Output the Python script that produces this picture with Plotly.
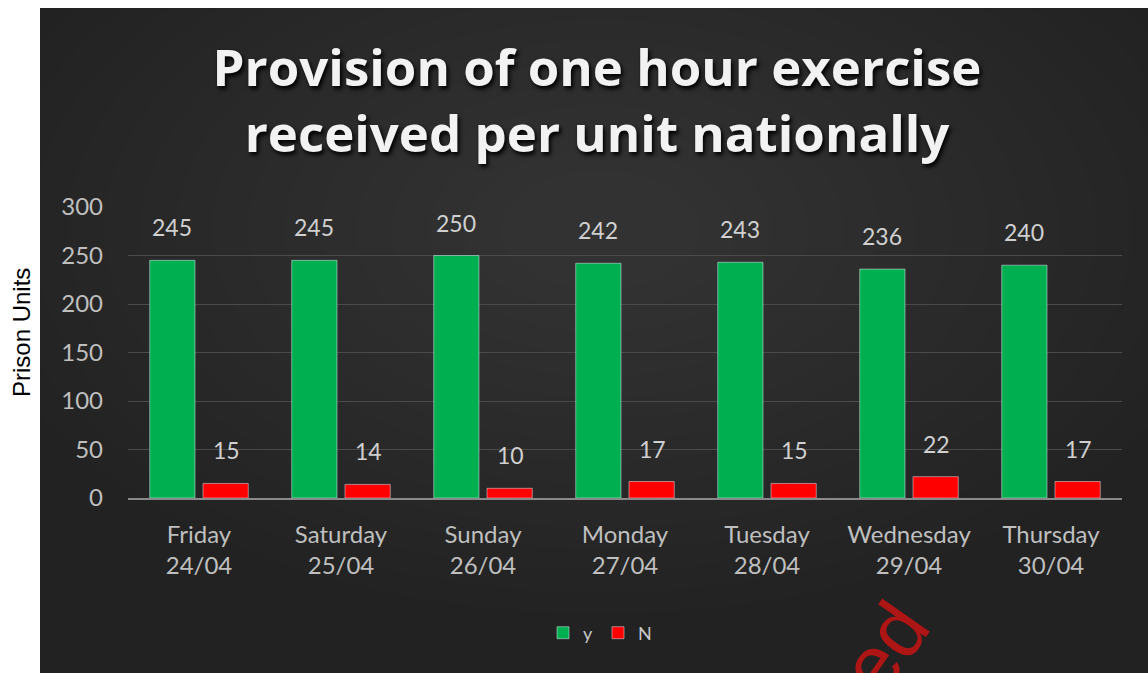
import plotly.graph_objects as go

days = ["Friday<br>24/04", "Saturday<br>25/04", "Sunday<br>26/04", "Monday<br>27/04",
        "Tuesday<br>28/04", "Wednesday<br>29/04", "Thursday<br>30/04"]
y_vals = [245, 245, 250, 242, 243, 236, 240]
n_vals = [15, 14, 10, 17, 15, 22, 17]
y_ticks = [0, 50, 100, 150, 200, 250, 300]

W, H = 1148, 673
L, R, T, B = 128, 26, 207, 175
pw, ph = W - L - R, H - T - B

def px_x(p):
    return (p - L) / pw

def px_y(p):
    return (H - B - p) / ph

fig = go.Figure()
fig.add_trace(go.Bar(name="y", x=days, y=y_vals, marker_color="#00b050"))
fig.add_trace(go.Bar(name="N", x=days, y=n_vals, marker_color="#ff0000"))

# data labels
for series, shift in ((y_vals, -27), (n_vals, 27)):
    for d, v in zip(days, series):
        fig.add_annotation(x=d, y=v, text=str(v), showarrow=False, xshift=shift,
                           yanchor="bottom", yshift=17,
                           font=dict(family="Lato", size=23, color="#d0d0d0"))

shapes = [dict(type="rect", xref="paper", yref="paper", x0=px_x(40), x1=px_x(1148),
               y0=px_y(673), y1=px_y(8), fillcolor="#222222", line_width=0, layer="below")]
# soft radial lightening toward the centre
n_rings = 16
for i in range(n_rings):
    r = 640 - i * 36
    rx, ry = r, r * 0.6
    cx, cy = 600, 230
    shapes.append(dict(type="circle", xref="paper", yref="paper",
                       x0=px_x(cx - rx), x1=px_x(cx + rx), y0=px_y(cy + ry), y1=px_y(cy - ry),
                       fillcolor="rgba(255,255,255,0.0065)", line_width=0, layer="below"))

fig.update_layout(
    width=W, height=H,
    margin=dict(l=L, r=R, t=T, b=B),
    paper_bgcolor="white", plot_bgcolor="rgba(0,0,0,0)",
    barmode="group", bargap=0.25, bargroupgap=0.15,
    shapes=shapes,
    title=dict(text="Provision of one hour exercise<br>received per unit nationally",
               x=597 / W, xanchor="center", y=1 - 86 / H, yanchor="middle",
               yref="container",
               font=dict(family="Open Sans", size=51, color="#f2f2f2",
                         weight="bold", shadow="2px 3px 4px #000000")),
    legend=dict(orientation="h", x=px_x(600), xanchor="center", y=px_y(633), yanchor="middle",
                font=dict(family="Lato", size=18, color="#c8c8c8"), itemwidth=30,
                bgcolor="rgba(0,0,0,0)"),
    xaxis=dict(showgrid=False, showline=True, linecolor="#8a8a8a", linewidth=2,
               tickfont=dict(family="Lato", size=24, color="#bfbfbf"), ticks="",
               ticklabelstandoff=14),
    yaxis=dict(range=[0, 300], tickvals=y_ticks, showgrid=True, gridcolor="#4a4a4a",
               gridwidth=1, zeroline=False, showline=False, ticks="",
               tickfont=dict(family="Lato", size=24, color="#bfbfbf"),
               ticklabelstandoff=24),
)

fig.add_annotation(text="Prison Units", xref="paper", yref="paper", x=px_x(21), y=px_y(333),
                   textangle=-90, showarrow=False, xanchor="center", yanchor="middle",
                   font=dict(family="Liberation Sans", size=24, color="#000000"))

fig.add_annotation(text="ed", xref="paper", yref="paper", x=px_x(884), y=px_y(648),
                   textangle=-55, showarrow=False, xanchor="center", yanchor="middle",
                   font=dict(family="Liberation Sans", size=80, color="rgba(190,20,20,0.9)"))

fig.write_html("out.html", config={"displayModeBar": False},
               post_script="document.body.style.margin='0px';document.body.style.overflow='hidden';")
